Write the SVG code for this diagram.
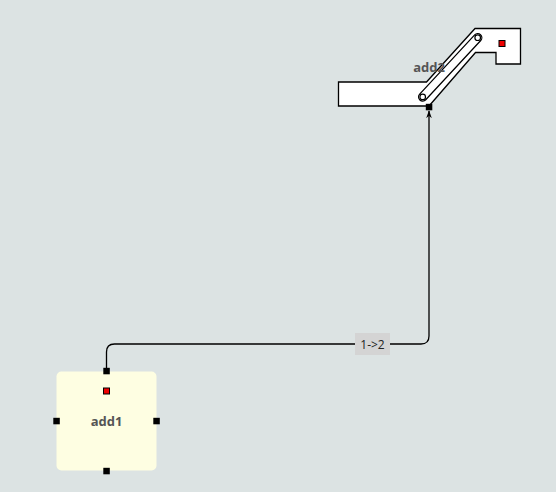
<svg xmlns="http://www.w3.org/2000/svg" width="556" height="492" viewBox="0 0 556 492">
<style>
.lbl{font-family:"Open Sans","DejaVu Sans",sans-serif;font-weight:bold;font-size:13px;fill:#555;text-anchor:middle}
.port{fill:#000}
.red{fill:#e00;stroke:#000;stroke-width:1}
.edge{fill:none;stroke:#000;stroke-width:1.3}
</style>
<defs>
<marker id="arr" viewBox="0 0 10 10" refX="9" refY="5" markerWidth="8" markerHeight="8" orient="auto" markerUnits="userSpaceOnUse">
<path d="M0,1.5 L10,5 L0,8.5 L3,5 Z" fill="#000"/>
</marker>
</defs>
<rect width="556" height="492" fill="#dce3e3"/>
<g id="connectors">
<path class="edge" d="M106.5,371 V352 Q106.5,344 114.5,344 H421 Q429,344 429,336 V111" marker-end="url(#arr)"/>
<g id="edge-label">
<rect x="355" y="333" width="35" height="22" fill="#d4d4d4"/>
<text x="372.5" y="348.5" font-family="'Open Sans','DejaVu Sans',sans-serif" font-size="12" fill="#222" text-anchor="middle">1-&gt;2</text>
</g>
</g>
<g id="add1">
<rect x="56.5" y="371.5" width="100" height="99" rx="5" fill="#fefee2"/>
<text class="lbl" x="106.5" y="425.5">add1</text>
<rect class="red" x="103.5" y="388" width="6" height="6"/>
<rect class="port" x="103.3" y="367.8" width="6.5" height="6.5"/>
<rect class="port" x="53.3" y="417.8" width="6.5" height="6.5"/>
<rect class="port" x="153.3" y="417.8" width="6.5" height="6.5"/>
<rect class="port" x="103.3" y="467.8" width="6.5" height="6.5"/>
</g>
<g id="add2">
<polygon points="338.5,82 426.5,82 475,28.5 520.5,28.5 520.5,64 496,64 496,52.5 475.5,52.5 429,106 338.5,106" fill="#fff" stroke="#000" stroke-width="1.3"/>
<line x1="422.7" y1="96.9" x2="477.7" y2="37.7" stroke="#000" stroke-width="9.5" stroke-linecap="round"/>
<line x1="422.7" y1="96.9" x2="477.7" y2="37.7" stroke="#fff" stroke-width="7" stroke-linecap="round"/>
<circle cx="422.7" cy="96.9" r="2.8" fill="#fff" stroke="#000" stroke-width="1.2"/>
<circle cx="477.7" cy="37.7" r="2.8" fill="#fff" stroke="#000" stroke-width="1.2"/>
<rect class="red" x="499" y="40.5" width="6" height="6"/>
<rect class="port" x="425.8" y="103.8" width="6.5" height="6.5"/>
<text class="lbl" x="429" y="71.5">add2</text>
</g>
</svg>
